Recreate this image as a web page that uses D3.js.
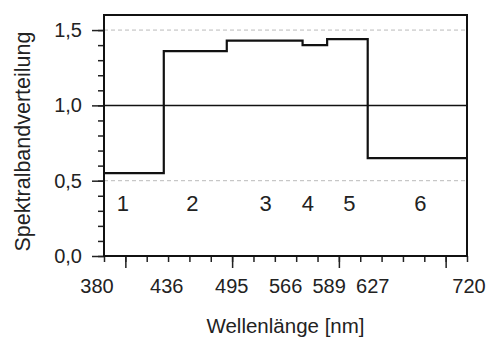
<!DOCTYPE html>
<html>
<head>
<meta charset="utf-8">
<script src="https://cdn.jsdelivr.net/npm/d3@7"></script>
<style>
  body { margin: 0; background: #fff; }
  text { font-family: "Liberation Sans", Arial, sans-serif; fill: #222; }
</style>
</head>
<body>
<div id="root"></div>
<script>
// Bandgrenzen in nm und relative Werte je Band
const bandEdges = [380, 436, 495, 566, 589, 627, 720];
const bandValues = [0.55, 1.36, 1.43, 1.40, 1.44, 0.65];
const bandNames = ["1", "2", "3", "4", "5", "6"];
const yTickValues = [0, 0.5, 1.0, 1.5];

const width = 494, height = 345;
const margin = { top: 15, right: 27, bottom: 89, left: 104 };

const svg = d3.select("#root").append("svg")
  .attr("width", width).attr("height", height);

const x = d3.scaleLinear().domain([380, 720]).range([margin.left, width - margin.right]);
const y = d3.scaleLinear().domain([0, 1.6]).range([height - margin.bottom, margin.top]);

const de = d3.formatLocale({ decimal: ",", thousands: ".", grouping: [3], currency: ["", "€"] });
const fmt = de.format(".1f");

// Hilfslinien
svg.selectAll(".grid").data([0.5, 1.5]).enter().append("line")
  .attr("x1", x(380)).attr("x2", x(720))
  .attr("y1", d => y(d)).attr("y2", d => y(d))
  .attr("stroke", "#bbb").attr("stroke-width", 1).attr("stroke-dasharray", "4,3");

svg.append("line")
  .attr("x1", x(380)).attr("x2", x(720))
  .attr("y1", y(1)).attr("y2", y(1))
  .attr("stroke", "#111").attr("stroke-width", 1.5);

// Achsen mit Neben- und Hauptstrichen
const xAxisMinor = d3.axisBottom(x).tickValues(d3.range(380, 721, 20)).tickSize(6).tickFormat("");
const xAxisMajor = d3.axisBottom(x).tickValues([400, 500, 600, 700]).tickSize(12).tickFormat("");
[xAxisMinor, xAxisMajor].forEach(ax => {
  svg.append("g").attr("transform", `translate(0,${y(0)})`).call(ax)
    .call(g => g.select(".domain").remove())
    .selectAll("line").attr("stroke", "#222").attr("stroke-width", 1.5);
});

const yAxisMinor = d3.axisLeft(y).tickValues(d3.range(0, 16).map(d => d / 10)).tickSize(6).tickFormat("");
const yAxisMajor = d3.axisLeft(y).tickValues(yTickValues).tickSize(12).tickFormat(fmt).tickPadding(10);
[yAxisMinor, yAxisMajor].forEach(ax => {
  const g = svg.append("g").attr("transform", `translate(${x(380)},0)`).call(ax);
  g.select(".domain").remove();
  g.selectAll("line").attr("stroke", "#222").attr("stroke-width", 1.5);
  g.selectAll("text").style("font-size", "20px").attr("fill", "#222")
    .style("font-family", "'Liberation Sans', Arial, sans-serif");
});

// Beschriftung der Bandgrenzen (566 etwas nach links, damit sie nicht kollidieren)
const labelNudge = { 380: -7, 436: 3, 495: 5, 566: -17, 589: 2, 627: 5, 720: 2 };
svg.append("g").selectAll("text").data(bandEdges).enter().append("text")
  .attr("x", d => x(d) + (labelNudge[d] || 0))
  .attr("y", y(0) + 37)
  .attr("text-anchor", "middle")
  .style("font-size", "20px")
  .text(d => d);

// Rahmen
svg.append("path")
  .attr("d", `M${x(380)},${y(0)} L${x(380)},${y(1.6)} L${x(720)},${y(1.6)} L${x(720)},${y(0)} Z`)
  .attr("fill", "none").attr("stroke", "#111").attr("stroke-width", 2);

// Treppenkurve
const steps = bandValues.map((v, i) => [bandEdges[i], v]);
steps.push([bandEdges[bandEdges.length - 1], bandValues[bandValues.length - 1]]);
const line = d3.line().x(d => x(d[0])).y(d => y(d[1])).curve(d3.curveStepAfter);
svg.append("path").datum(steps)
  .attr("d", line)
  .attr("fill", "none").attr("stroke", "#111").attr("stroke-width", 2.2);

// Bandnummern
const nameNudge = [-11, -3, 1, -7, 2, 3];
svg.append("g").selectAll("text").data(bandNames).enter().append("text")
  .attr("x", (d, i) => x((bandEdges[i] + bandEdges[i + 1]) / 2) + nameNudge[i])
  .attr("y", y(0.3))
  .attr("text-anchor", "middle")
  .style("font-size", "22px")
  .text(d => d);

// Achsentitel
svg.append("text")
  .attr("x", (x(380) + x(720)) / 2).attr("y", 333)
  .attr("text-anchor", "middle")
  .style("font-size", "20.5px")
  .text("Wellenlänge [nm]");

svg.append("text")
  .attr("transform", `translate(30,${(y(0) + y(1.6)) / 2 + 6}) rotate(-90)`)
  .attr("text-anchor", "middle")
  .style("font-size", "21.5px")
  .text("Spektralbandverteilung");
</script>
</body>
</html>
